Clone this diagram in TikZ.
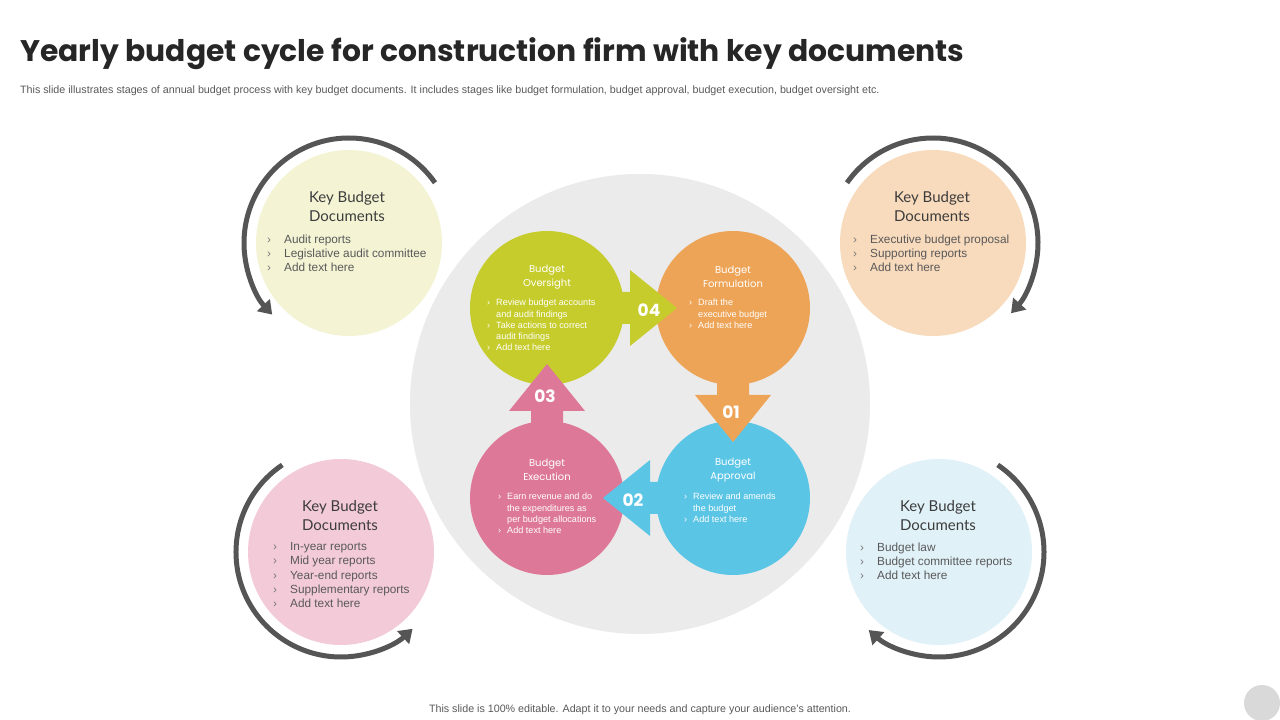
\documentclass[tikz,border=0pt]{standalone}
\usepackage{fontspec}
\setmainfont{Liberation Sans}
\newfontfamily\headfont{Poppins}
\newfontfamily\docfont{Lato}
\usepackage{tikz}
\usetikzlibrary{arrows.meta, positioning, calc}
\definecolor{HubGray}{HTML}{EBEBEB}
\definecolor{StageGreen}{HTML}{C6CC2B}
\definecolor{StageOrange}{HTML}{EDA457}
\definecolor{StagePink}{HTML}{DE7899}
\definecolor{StageBlue}{HTML}{5BC5E5}
\definecolor{DocYellow}{HTML}{F4F4D5}
\definecolor{DocPeach}{HTML}{F8DABC}
\definecolor{DocPink}{HTML}{F3CAD8}
\definecolor{DocBlue}{HTML}{E0F1F8}
\definecolor{ArcGray}{HTML}{555555}
\definecolor{InkDark}{HTML}{262626}
\definecolor{InkMid}{HTML}{595959}
\newcommand{\ibul}{\makebox[9pt][l]{›}}
\newcommand{\iind}{\hspace*{9pt}}
\newcommand{\obul}{\makebox[17pt][l]{\textcolor{InkMid!80}{›}}}
\tikzset{
  % Circle styles
  stagecircle/.style={circle, minimum size=154pt, inner sep=0pt},
  doccircle/.style={circle, minimum size=186pt, inner sep=0pt},
  % Text styles
  stagetitle/.style={font=\headfont\fontsize{10}{14}\selectfont, text=white, align=center, inner sep=0pt},
  stageitems/.style={font=\fontsize{9.1}{11.3}\selectfont, text=white, align=left, anchor=north west, inner sep=0pt},
  doctitle/.style={font=\docfont\fontsize{15}{19}\selectfont, text=InkDark!90, align=center, inner sep=0pt},
  docitems/.style={font=\fontsize{11.8}{14.1}\selectfont, text=InkMid, align=left, anchor=north west, inner sep=0pt},
  stepnum/.style={font=\headfont\bfseries\fontsize{17}{17}\selectfont, text=white, inner sep=0pt},
  % Arrow styles
  cyclearc/.style={ArcGray, line width=5pt, -{Triangle[length=13pt, width=17pt]}},
  blockarrow/.pic={\fill[pic actions] (0,0) -- (-47,38) -- (-47,16) -- (-78,16) -- (-78,-16) -- (-47,-16) -- (-47,-38) -- cycle;}
}

\begin{document}
\begin{tikzpicture}[x=1pt, y=1pt]
  \useasboundingbox (0,0) rectangle (1280,720);
  \fill[white] (0,0) rectangle (1280,720);

  % Title and subtitle
  \node[font=\headfont\bfseries\fontsize{29.8}{34}\selectfont, text=InkDark, anchor=base west, inner sep=0pt] (title) at (20,658) {Yearly budget cycle for construction firm with key documents};
  \node[font=\fontsize{10.7}{12}\selectfont, text=InkMid, anchor=base west, inner sep=0pt] (subtitle) at (20,626) {This slide illustrates stages of annual budget process with key budget documents. It includes stages like budget formulation, budget approval, budget execution, budget oversight etc.};

  % Central disc
  \node[circle, fill=HubGray, minimum size=460pt, inner sep=0pt] (hub) at (640,316) {};

  % Document circles
  \node[doccircle, fill=DocYellow] (docTL) at (349,477) {};
  \node[doccircle, fill=DocPeach] (docTR) at (933,477) {};
  \node[doccircle, fill=DocPink] (docBL) at (341,168) {};
  \node[doccircle, fill=DocBlue] (docBR) at (939,168) {};

  % Cycle arcs
  \draw[cyclearc] ($(docTL)+(35:105)$) arc[start angle=35, end angle=223, radius=105];
  \draw[cyclearc] ($(docTR)+(145:105)$) arc[start angle=145, end angle=-42, radius=105];
  \draw[cyclearc] ($(docBL)+(124:105)$) arc[start angle=124, end angle=313, radius=105];
  \draw[cyclearc] ($(docBR)+(56:105)$) arc[start angle=56, end angle=-132, radius=105];

  % Stage circles
  \node[stagecircle, fill=StageGreen] (ovs) at (547,412) {};
  \node[stagecircle, fill=StageOrange] (frm) at (733,412) {};
  \node[stagecircle, fill=StagePink] (exe) at (547,222) {};
  \node[stagecircle, fill=StageBlue] (apr) at (733,222) {};

  % Block arrows between stages
  \pic[fill=StageOrange, rotate=-90] at ($(apr)+(0,56)$) {blockarrow};
  \pic[fill=StageBlue, rotate=180] at ($(exe)+(56,0)$) {blockarrow};
  \pic[fill=StagePink, rotate=90] at ($(ovs)+(0,-56)$) {blockarrow};
  \pic[fill=StageGreen] at ($(frm)+(-56,0)$) {blockarrow};
  \node[stepnum] (n01) at ($(apr)+(-2,86)$) {01};
  \node[stepnum] (n02) at ($(exe)+(86,-2)$) {02};
  \node[stepnum] (n03) at ($(ovs)+(-2,-88)$) {03};
  \node[stepnum] (n04) at ($(frm)+(-84,-2)$) {04};

  % Stage texts
  \node[stagetitle] (ovsT) at ($(ovs)+(0,31)$) {Budget\\Oversight};
  \node[stageitems] (ovsL) at ($(ovs)+(-60,9)$) {\ibul Review budget accounts\\\iind and audit findings\\\ibul Take actions to correct\\\iind audit findings\\\ibul Add text here};
  \node[stagetitle] (frmT) at ($(frm)+(0,31)$) {Budget\\Formulation};
  \node[stageitems] (frmL) at ($(frm)+(-44,9)$) {\ibul Draft the\\\iind executive budget\\\ibul Add text here};
  \node[stagetitle] (exeT) at ($(exe)+(0,28)$) {Budget\\Execution};
  \node[stageitems] (exeL) at ($(exe)+(-49,5)$) {\ibul Earn revenue and do\\\iind the expenditures as\\\iind per budget allocations\\\ibul Add text here};
  \node[stagetitle] (aprT) at ($(apr)+(0,28)$) {Budget\\Approval};
  \node[stageitems] (aprL) at ($(apr)+(-49,5)$) {\ibul Review and amends\\\iind the budget\\\ibul Add text here};

  % Document texts
  \node[doctitle] (docTLT) at ($(docTL)+(-2,36.5)$) {Key Budget\\Documents};
  \node[docitems] (docTLL) at ($(docTL)+(-82,8.5)$) {\obul Audit reports\\\obul Legislative audit committee\\\obul Add text here};
  \node[doctitle] (docTRT) at ($(docTR)+(-1,36.5)$) {Key Budget\\Documents};
  \node[docitems] (docTRL) at ($(docTR)+(-80,8.5)$) {\obul Executive budget proposal\\\obul Supporting reports\\\obul Add text here};
  \node[doctitle] (docBLT) at ($(docBL)+(-1,36.5)$) {Key Budget\\Documents};
  \node[docitems] (docBLL) at ($(docBL)+(-68,9.5)$) {\obul In-year reports\\\obul Mid year reports\\\obul Year-end reports\\\obul Supplementary reports\\\obul Add text here};
  \node[doctitle] (docBRT) at ($(docBR)+(-1,36.5)$) {Key Budget\\Documents};
  \node[docitems] (docBRL) at ($(docBR)+(-79,9.5)$) {\obul Budget law\\\obul Budget committee reports\\\obul Add text here};

  % Footer
  \node[font=\fontsize{10.7}{12}\selectfont, text=InkMid, anchor=base, inner sep=0pt] (footer) at (640,7) {This slide is 100\% editable. Adapt it to your needs and capture your audience's attention.};
  \node[circle, fill=black!15, minimum size=36pt, inner sep=0pt] (dot) at (1262,17) {};
\end{tikzpicture}
\end{document}
